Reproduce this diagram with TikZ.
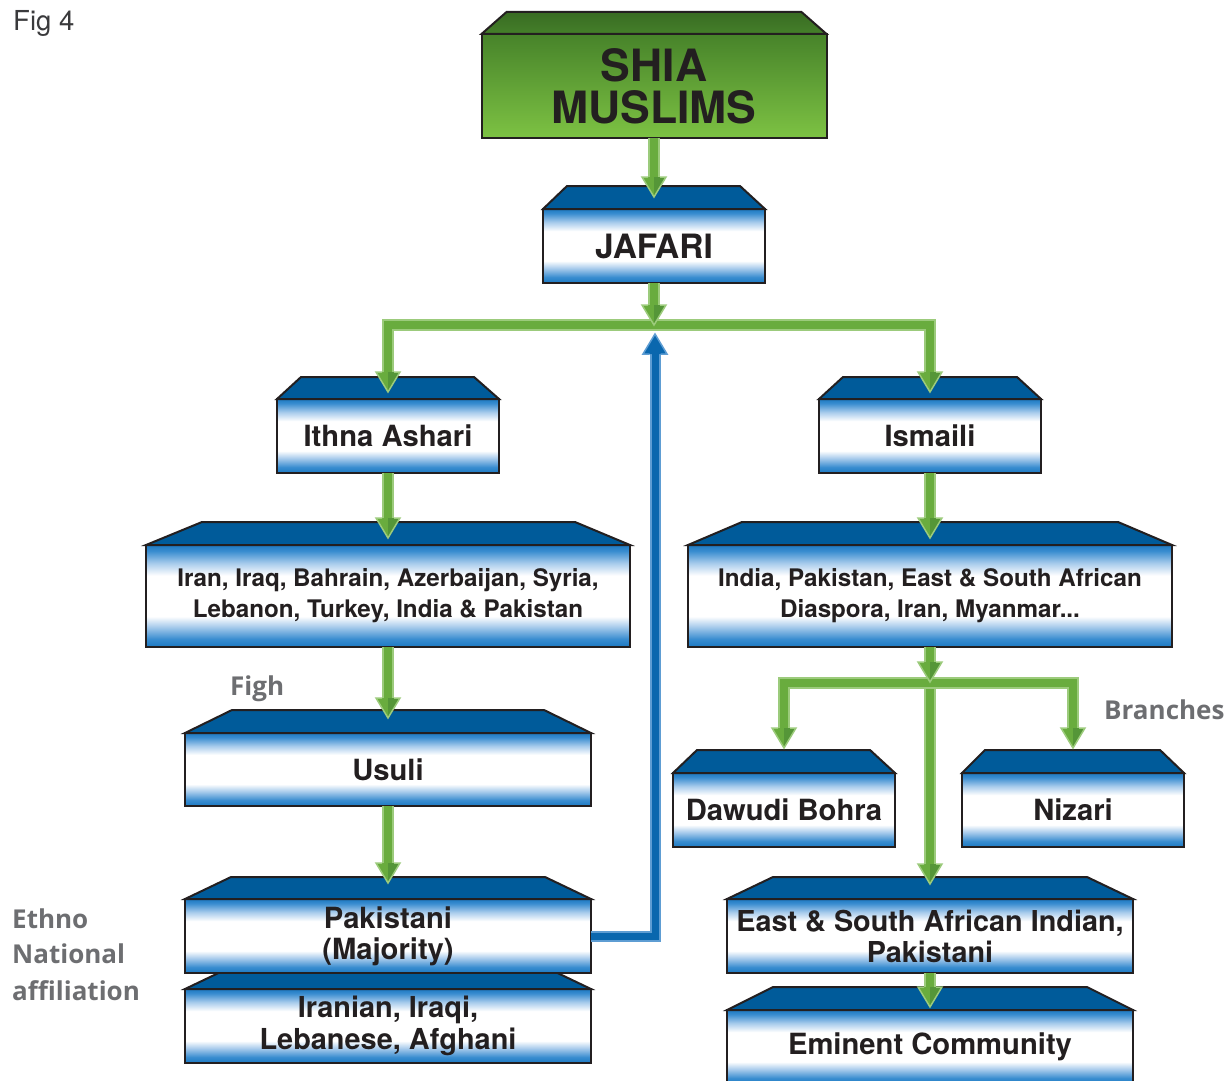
\documentclass[tikz,border=0pt]{standalone}
\usepackage{fontspec}
\setmainfont{TeX Gyre Heros}
\newfontfamily\labelfont{Open Sans}
\usetikzlibrary{calc}

% palette
\definecolor{ink}{HTML}{231F20}
\definecolor{faceblue}{HTML}{1C79C2}
\definecolor{edgeblue}{HTML}{3A8DD0}
\definecolor{paleblue}{HTML}{A9CCEC}
\definecolor{topblue}{HTML}{005B9A}
\definecolor{greenhi}{HTML}{9CCB7C}
\definecolor{greenmid}{HTML}{69AC3E}
\definecolor{greendark}{HTML}{559638}
\definecolor{bluehi}{HTML}{5E9DD3}
\definecolor{bluemid}{HTML}{0A67AE}
\definecolor{labelgray}{HTML}{6D6E71}
\definecolor{figgray}{HTML}{3A3A3C}
\definecolor{topgreenA}{HTML}{386B22}
\definecolor{topgreenB}{HTML}{45802A}
\definecolor{frontgreenA}{HTML}{47832A}
\definecolor{frontgreenB}{HTML}{7DC243}

% front face of the blue boxes: blue rims fading to a white band
\pgfdeclareverticalshading{blueface}{100bp}{%
  color(0bp)=(faceblue); color(25bp)=(faceblue);
  color(29bp)=(edgeblue); color(35bp)=(paleblue); color(40bp)=(white);
  color(60bp)=(white); color(66bp)=(paleblue); color(72bp)=(edgeblue);
  color(75bp)=(faceblue); color(100bp)=(faceblue)}

\tikzset{
  front/.style={draw=ink, line width=2pt, shade, shading=blueface,
    inner sep=0pt, outer sep=0pt, align=center, text=ink,
    font=\bfseries\fontsize{29.2}{31}\selectfont},
  greenfront/.style={front, top color=frontgreenA, bottom color=frontgreenB},
  topface/.style={draw=ink, line width=2pt, fill=topblue},
  greentop/.style={draw=ink, line width=2pt, top color=topgreenA, bottom color=topgreenB},
  gshaft/.style={draw=greenhi, line width=12pt},
  gcore/.style={draw=greenmid, line width=8pt},
  bshaft/.style={draw=bluehi, line width=11pt},
  bcore/.style={draw=bluemid, line width=7pt},
  sidelabel/.style={text=labelgray, inner sep=0pt, anchor=base west,
    font=\labelfont\bfseries\fontsize{26}{36}\selectfont},
  ghead/.pic={
    \fill[greenmid] (0,0) -- (-12,-20) -- (0,-20) -- cycle;
    \fill[greendark] (0,0) -- (12,-20) -- (0,-20) -- cycle;
    \draw[greenhi, line width=1.5pt] (-6,-20) -- (-12,-20) -- (0,0) -- (12,-20) -- (6,-20);
  },
  bhead/.pic={
    \fill[bluemid] (0,0) -- (-12,20) -- (12,20) -- cycle;
    \draw[bluehi, line width=1.5pt] (-5.5,20) -- (-12,20) -- (0,0) -- (12,20) -- (5.5,20);
  },
}

% sloped top face above a box: node, left inset, right inset, height
\newcommand\facetop[5][topface]{%
  \path[#1] (#2.north west) -- ([shift={(#3,-#5)}]#2.north west)
    -- ([shift={(-#4,-#5)}]#2.north east) -- (#2.north east) -- cycle;}
% two-tone connector shafts
\newcommand\greenline[1]{\draw[gshaft] #1; \draw[gcore] #1;}
\newcommand\blueline[1]{\draw[bshaft] #1; \draw[bcore] #1;}

\begin{document}
\begin{tikzpicture}[x=1pt, y=-1pt]
\useasboundingbox (0,0) rectangle (1231,1081);
\clip (0,0) rectangle (1231,1081);

% ---- boxes ----
\node[greenfront, minimum width=345pt, minimum height=104pt,
      font=\bfseries\fontsize{44.5}{42}\selectfont] (shia) at (654,86) {SHIA\\MUSLIMS};
\facetop[greentop]{shia}{25}{25}{22}

\node[front, minimum width=222pt, minimum height=74pt,
      font=\bfseries\fontsize{33.5}{36}\selectfont] (jafari) at (654,246) {JAFARI};
\facetop{jafari}{24}{25}{23}

\node[front, minimum width=222pt, minimum height=74pt] (ithna) at (388,436) {Ithna Ashari};
\facetop{ithna}{24}{25}{22}
\node[front, minimum width=222pt, minimum height=74pt] (ismaili) at (930,436) {Ismaili};
\facetop{ismaili}{24}{24}{22}

\node[front, minimum width=484pt, minimum height=102pt,
      font=\bfseries\fontsize{24.2}{31}\selectfont] (iran) at (388,596)
      {Iran, Iraq, Bahrain, Azerbaijan, Syria,\\Lebanon, Turkey, India \& Pakistan};
\facetop{iran}{56}{55}{23}
\node[front, minimum width=484pt, minimum height=102pt,
      font=\bfseries\fontsize{24.2}{31}\selectfont] (india) at (930,596)
      {India, Pakistan, East \& South African\\Diaspora, Iran, Myanmar...};
\facetop{india}{54}{54}{23}

\node[front, minimum width=406pt, minimum height=73pt] (usuli) at (388,769.5) {Usuli};
\facetop{usuli}{47}{47}{23}

\node[front, minimum width=406pt, minimum height=74pt,
      font=\bfseries\fontsize{28.9}{32}\selectfont] (iranian) at (388,1026)
      {Iranian, Iraqi,\\Lebanese, Afghani};
\facetop{iranian}{46}{46}{22}
\node[front, minimum width=406pt, minimum height=74pt] (pak) at (388,936)
      {Pakistani\\(Majority)};
\facetop{pak}{46}{46}{22}

\node[front, minimum width=222pt, minimum height=74pt] (dawudi) at (784,810) {Dawudi Bohra};
\facetop{dawudi}{24}{25}{23}
\node[front, minimum width=222pt, minimum height=74pt] (nizari) at (1073,810) {Nizari};
\facetop{nizari}{23}{24}{23}

\node[front, minimum width=406pt, minimum height=74pt,
      font=\bfseries\fontsize{28.8}{31}\selectfont] (east) at (930,936)
      {East \& South African Indian,\\Pakistani};
\facetop{east}{46}{46}{22}
\node[front, minimum width=406pt, minimum height=74pt] (eminent) at (930,1047) {Eminent Community};
\facetop{eminent}{46}{46}{23}

% ---- junction points ----
\coordinate (hub) at (654,325);
\coordinate (fork) at (930,683);

% ---- green connectors ----
\greenline{(shia.south) -- ($(jafari.north)+(0,-32)$)}
\pic at ($(jafari.north)+(0,-12)$) {ghead};

\greenline{($(ithna.north)+(0,-27)$) |- (hub) -| ($(ismaili.north)+(0,-27)$)}
\pic at ($(ithna.north)+(0,-7)$) {ghead};
\pic at ($(ismaili.north)+(0,-7)$) {ghead};
\greenline{(jafari.south) -- ($(hub)+(0,-20)$)}
\pic at (hub) {ghead};

\greenline{(ithna.south) -- ($(iran.north)+(0,-27)$)}
\pic at ($(iran.north)+(0,-7)$) {ghead};
\greenline{(ismaili.south) -- ($(india.north)+(0,-27)$)}
\pic at ($(india.north)+(0,-7)$) {ghead};

\greenline{(iran.south) -- ($(usuli.north)+(0,-35)$)}
\pic at ($(usuli.north)+(0,-15)$) {ghead};
\greenline{(usuli.south) -- ($(pak.north)+(0,-36)$)}
\pic at ($(pak.north)+(0,-16)$) {ghead};

\greenline{(fork) -- ($(east.north)+(0,-35)$)}
\pic at ($(east.north)+(0,-15)$) {ghead};
\greenline{($(dawudi.north)+(0,-45)$) |- (fork) -| ($(nizari.north)+(0,-45)$)}
\pic at ($(dawudi.north)+(0,-25)$) {ghead};
\pic at ($(nizari.north)+(0,-25)$) {ghead};
\greenline{(india.south) -- ($(fork)+(0,-21)$)}
\pic at ($(fork)+(0,-1)$) {ghead};

\greenline{(east.south) -- ($(eminent.north)+(0,-23)$)}
\pic at ($(eminent.north)+(0,-3)$) {ghead};

% ---- blue feedback connector ----
\blueline{(pak.east) -| ($(hub)+(1,29)$)}
\pic at ($(hub)+(1,9)$) {bhead};

% ---- side labels ----
\node[anchor=base west, inner sep=0pt, text=figgray,
      font=\fontsize{27.5}{30}\selectfont] (fig) at (13,31) {Fig 4};
\node[sidelabel] (figh) at (230,695) {Figh};
\node[sidelabel] (branches) at (1104,719) {Branches};
\node[sidelabel] (ethno) at (12,928) {Ethno};
\node[sidelabel] (national) at (12,963) {National};
\node[sidelabel] (affil) at (12,1000) {affiliation};
\end{tikzpicture}
\end{document}
